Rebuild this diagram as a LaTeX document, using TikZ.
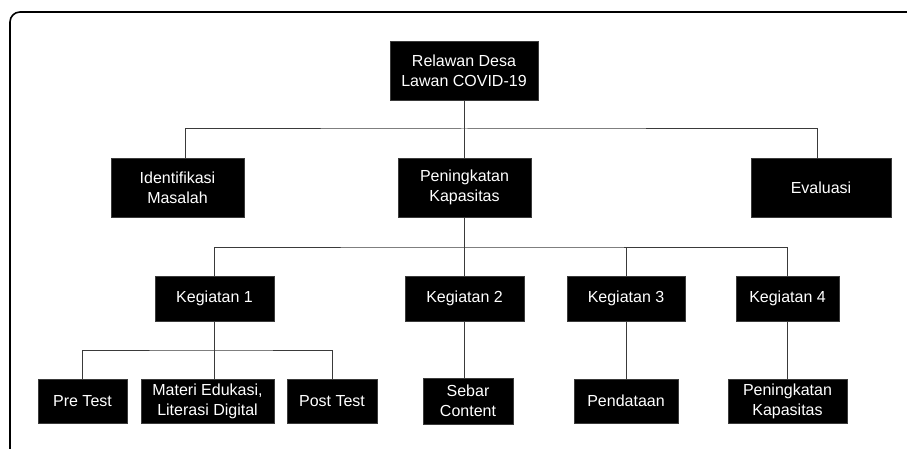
\documentclass[tikz,border=0pt]{standalone}
\usepackage{fontspec}
\setmainfont{Liberation Sans}
\usepackage{xcolor}
\usepackage{tikz}
\usetikzlibrary{calc}
\definecolor{hitam}{HTML}{000000}
\definecolor{abu}{HTML}{3A3A3A}
\tikzset{
  kotak/.style={rectangle, fill=hitam, draw=abu, line width=0.8pt,
    text=white, align=center, inner sep=0pt,
    font=\fontsize{16}{20}\selectfont},
  atas/.style={kotak, minimum height=59pt},
  tengah/.style={kotak, minimum height=45pt},
  bawah/.style={kotak, minimum height=44pt},
  garis/.style={draw=abu, line width=1pt},
  bingkai/.style={draw=hitam, line width=1.6pt, rounded corners=10pt}
}

\begin{document}
\begin{tikzpicture}[x=1pt, y=-1pt]

  \useasboundingbox (0,0) rectangle (907,449);

  % --- Bingkai luar ---
  \begin{scope}
    \clip (0,0) rectangle (907,449);
    \draw[bingkai] (10,12) rectangle (940,475);
  \end{scope}

  % --- Tingkat 1 ---
  \node[atas, minimum width=148pt] (relawan) at (464,70.5)
    {Relawan Desa\\ Lawan COVID-19};

  % --- Tingkat 2 ---
  \node[atas, minimum width=133pt] (identifikasi) at (177.5,187.5)
    {Identifikasi\\ Masalah};
  \node[atas, minimum width=133pt] (peningkatan) at (464.5,187.5)
    {Peningkatan\\ Kapasitas};
  \node[atas, minimum width=140pt] (evaluasi) at (821,187.5) {Evaluasi};

  % --- Tingkat 3: kegiatan ---
  \node[tengah, minimum width=119pt] (keg1) at (214.5,298.5) {Kegiatan 1};
  \node[tengah, minimum width=119pt] (keg2) at (464.5,298.5) {Kegiatan 2};
  \node[tengah, minimum width=118pt] (keg3) at (626,298.5) {Kegiatan 3};
  \node[tengah, minimum width=103pt] (keg4) at (787.5,298.5) {Kegiatan 4};

  % --- Tingkat 4 ---
  \node[bawah, minimum width=89pt] (pretest) at (82.5,401) {Pre Test};
  \node[bawah, minimum width=133pt] (materi) at (207.5,401)
    {Materi Edukasi,\\ Literasi Digital};
  \node[bawah, minimum width=90pt] (posttest) at (332,401) {Post Test};
  \node[bawah, minimum width=90pt, minimum height=46pt] (sebar) at (468,401)
    {Sebar\\ Content};
  \node[bawah, minimum width=104pt] (pendataan) at (626,401) {Pendataan};
  \node[bawah, minimum width=119pt] (kapasitas) at (787.5,401)
    {Peningkatan\\ Kapasitas};

  % --- Titik cabang ---
  \coordinate (cabang1) at (464,129);
  \coordinate (cabang2) at (464,247);
  \coordinate (cabang3) at (215,350);

  % --- Garis penghubung ---
  \draw[garis] (relawan.south) -- (relawan.south |- peningkatan.north);
  \draw[garis] ([xshift=7.5]identifikasi.north) |- (cabang1)
    -| ([xshift=-4]evaluasi.north);
  \draw[garis] (peningkatan.south) -- (peningkatan.south |- keg2.north);
  \draw[garis] (keg1.north) |- (cabang2) -| (keg4.north);
  \draw[garis] (keg3.north) -- (keg3.north |- cabang2);
  % cabang kegiatan 1
  \draw[garis] (keg1.south) -- (keg1.south |- materi.north);
  \draw[garis] (pretest.north) |- (cabang3) -| (posttest.north);
  \draw[garis] (keg2.south) -- (keg2.south |- sebar.north);
  \draw[garis] (keg3.south) -- (pendataan.north);
  \draw[garis] (keg4.south) -- (kapasitas.north);

\end{tikzpicture}
\end{document}
